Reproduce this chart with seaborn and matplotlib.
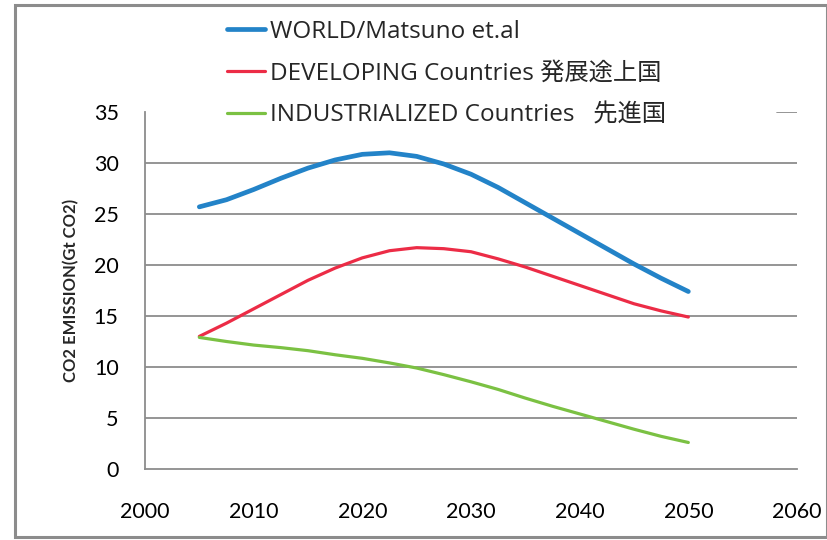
import matplotlib
matplotlib.use("Agg")
import matplotlib.pyplot as plt
import seaborn as sns
import pandas as pd
from matplotlib.patches import Rectangle
from matplotlib.lines import Line2D

# Projected CO2 emissions (Gt CO2), read every 2.5 years from 2005 to 2050
years = [2005, 2007.5, 2010, 2012.5, 2015, 2017.5, 2020, 2022.5, 2025, 2027.5,
         2030, 2032.5, 2035, 2037.5, 2040, 2042.5, 2045, 2047.5, 2050]
world = [25.7, 26.4, 27.4, 28.5, 29.5, 30.3, 30.85, 31.0, 30.65, 29.9,
         28.9, 27.6, 26.1, 24.6, 23.1, 21.6, 20.1, 18.7, 17.4]
developing = [13.0, 14.3, 15.7, 17.1, 18.5, 19.7, 20.7, 21.4, 21.7, 21.6,
              21.3, 20.6, 19.8, 18.9, 18.0, 17.1, 16.2, 15.5, 14.9]
industrialized = [12.9, 12.5, 12.15, 11.9, 11.6, 11.2, 10.85, 10.4, 9.9, 9.25,
                  8.55, 7.8, 6.95, 6.15, 5.4, 4.65, 3.9, 3.2, 2.6]

series_names = ["WORLD/Matsuno et.al",
                "DEVELOPING Countries 発展途上国",
                "INDUSTRIALIZED Countries   先進国"]
x_ticks = [2000, 2010, 2020, 2030, 2040, 2050, 2060]
y_ticks = [0, 5, 10, 15, 20, 25, 30, 35]

colors = ["#2383C8", "#EC2C46", "#7BC143"]
widths = [3.4, 2.3, 2.3]

sns.set_style("white")
plt.rcParams["font.family"] = ["Lato", "Noto Sans CJK JP", "DejaVu Sans"]

df = pd.concat([
    pd.DataFrame({"year": years, "value": vals, "series": name})
    for name, vals in zip(series_names, [world, developing, industrialized])
])

fig = plt.figure(figsize=(8.28, 5.40), dpi=100)
ax = fig.add_axes([145 / 828, 1 - 469 / 540, 652 / 828, 357 / 540])

for name, col, lw in zip(series_names, colors, widths):
    sns.lineplot(data=df[df["series"] == name], x="year", y="value", ax=ax,
                 color=col, linewidth=lw, solid_capstyle="round",
                 solid_joinstyle="round", zorder=3, legend=False)

grid_col = "#8C8C8C"
ax.set_xlim(2000, 2060)
ax.set_ylim(0, 35)
ax.set_xticks(x_ticks)
ax.set_yticks(y_ticks)
ax.set_xticklabels([str(t) for t in x_ticks])
ax.set_yticklabels([str(t) for t in y_ticks])

# horizontal gridlines; the top one is mostly hidden behind the legend
for yv in y_ticks[1:-1]:
    ax.axhline(yv, color=grid_col, linewidth=1.3, zorder=1)
ax.axhline(35, xmin=(777 - 145) / 652, xmax=1.0, color=grid_col,
           linewidth=1.3, zorder=1)

for side in ["top", "right"]:
    ax.spines[side].set_visible(False)
for side in ["left", "bottom"]:
    ax.spines[side].set_color(grid_col)
    ax.spines[side].set_linewidth(1.3)

ax.tick_params(axis="both", direction="out", length=6, width=1.0,
               color=grid_col, labelsize=15.5, labelcolor="black")
ax.tick_params(axis="x", pad=18)
ax.tick_params(axis="y", pad=13)

ax.set_xlabel("")
ax.set_ylabel("CO2 EMISSION(Gt CO2)", fontsize=12, fontweight="bold",
              labelpad=0)
ax.yaxis.set_label_coords(-(145 - 79) / 652, (469 - 290) / 357)

handles = [Line2D([], [], color=c, linewidth=lw, solid_capstyle="round")
           for c, lw in zip(colors, widths)]
fig.legend(handles, series_names, loc="upper left",
           bbox_to_anchor=(227 / 828, 1 - 20 / 540), frameon=False,
           prop={"family": ["Open Sans", "Noto Sans CJK JP"], "size": 17.5},
           borderpad=0, borderaxespad=0, handlelength=1.55,
           handletextpad=0.22, labelspacing=0.74)

# outer chart border
fig.patches.append(Rectangle((15 / 828, 3 / 540), 812 / 828, 532 / 540,
                             transform=fig.transFigure, fill=False,
                             edgecolor="#8C8C8C", linewidth=2.2))

fig.savefig("out.png", dpi=100)
